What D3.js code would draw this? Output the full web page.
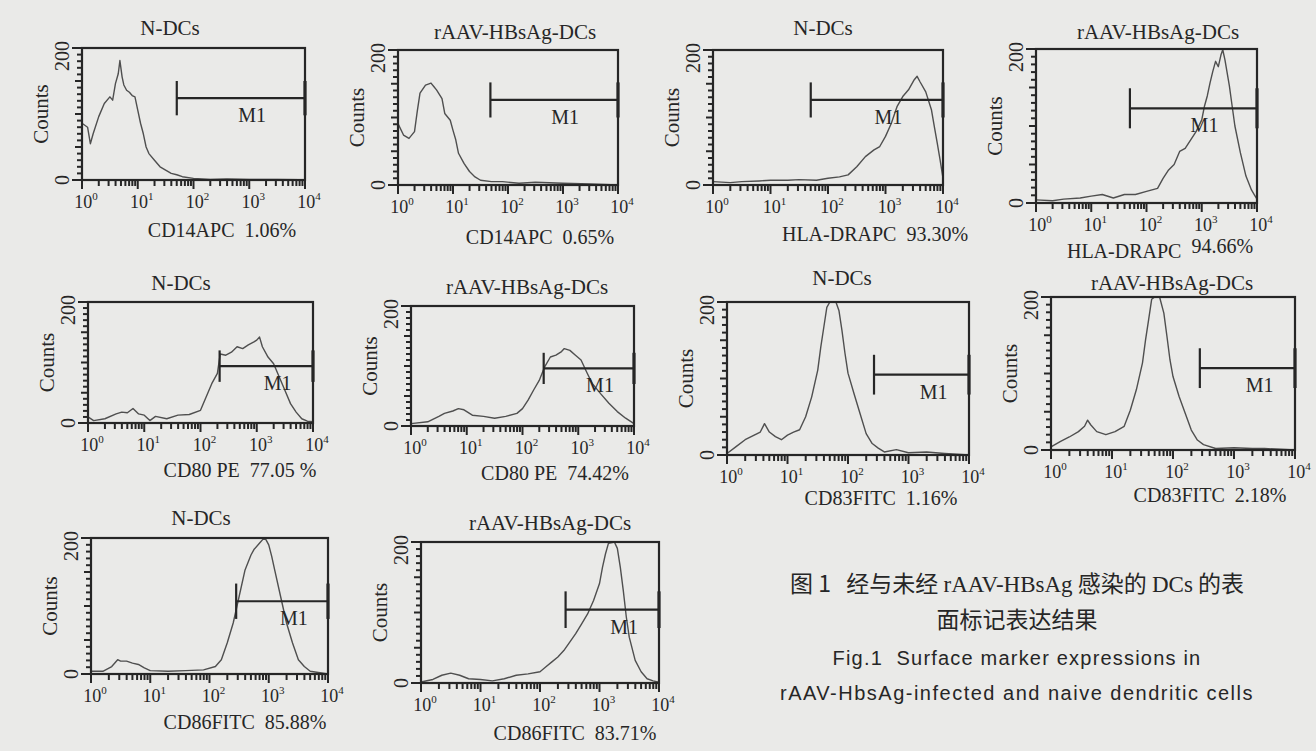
<!DOCTYPE html>
<html>
<head>
<meta charset="utf-8">
<script src="https://cdn.jsdelivr.net/npm/d3@7"></script>
<style>
  body { margin: 0; background: #eaeae8; }
  svg text { fill: #262626; }
</style>
</head>
<body>
<svg id="fig" width="1316" height="751"></svg>
<script>
// histogram traces: [log10 fluorescence, counts]
const cd14N = [[0,86],[0.1,80],[0.15,55],[0.2,70],[0.3,96],[0.4,116],[0.5,126],[0.55,121],[0.6,146],[0.65,161],[0.68,181],
  [0.72,156],[0.75,144],[0.8,136],[0.85,133],[0.9,128],[0.95,126],[1.0,106],[1.05,86],[1.1,70],[1.15,50],[1.2,40],[1.3,30],
  [1.4,20],[1.5,15],[1.6,10],[1.7,8],[1.8,5],[2.0,2.5],[2.3,1],[2.6,1.5],[3.0,1],[3.5,1],[3.9,0.5],[4.0,0]];
const cd14R = [[0,91],[0.1,74],[0.2,69],[0.3,79],[0.35,109],[0.4,136],[0.5,148],[0.6,151],[0.65,146],[0.7,141],[0.8,128],
  [0.85,106],[0.95,96],[1.0,81],[1.05,67],[1.1,47],[1.2,32],[1.3,20],[1.4,12],[1.5,7],[1.7,5],[1.9,5],[2.2,2.5],[2.5,4],
  [3.0,2.5],[3.5,1.5],[4.0,0]];
const hlaN = [[0,5],[0.3,3.5],[0.5,5],[0.8,6],[1.0,7],[1.3,7],[1.5,8],[1.8,7],[2.0,10],[2.2,12],[2.35,15],[2.5,27],[2.65,42],
  [2.8,52],[2.9,57],[3.0,72],[3.1,91],[3.2,116],[3.3,131],[3.4,141],[3.5,156],[3.55,161],[3.6,153],[3.7,138],[3.8,111],
  [3.85,86],[3.9,62],[3.95,37],[4.0,10]];
const hlaR = [[0,4],[0.3,3],[0.5,5],[0.8,6.5],[1.0,9],[1.2,11],[1.4,6.5],[1.6,11],[1.8,11],[2.0,15],[2.2,19],[2.3,32],[2.4,43],
  [2.5,50],[2.6,67],[2.7,71],[2.8,82],[2.9,93],[3.0,108],[3.05,126],[3.1,139],[3.15,156],[3.2,171],[3.25,184],[3.3,177],
  [3.35,193],[3.38,199],[3.42,186],[3.5,152],[3.55,126],[3.6,100],[3.7,65],[3.8,35],[3.9,17],[3.95,11],[4.0,5]];
const cd80N = [[0,10],[0.1,4],[0.3,7],[0.5,15],[0.6,18],[0.7,17],[0.8,24],[0.9,15],[1.0,13],[1.1,4],[1.2,11],[1.4,7],[1.6,13],
  [1.8,14],[2.0,21],[2.1,43],[2.2,65],[2.3,82],[2.35,114],[2.45,112],[2.55,117],[2.65,126],[2.75,123],[2.85,129],[2.95,134],
  [3.0,137],[3.05,142],[3.1,126],[3.2,109],[3.3,98],[3.4,76],[3.5,54],[3.6,32],[3.7,18],[3.8,7],[3.9,3],[4.0,2]];
const cd80R = [[0,4],[0.3,7],[0.5,16],[0.6,21],[0.75,25],[0.85,29],[0.95,27],[1.1,18],[1.3,16],[1.5,13],[1.7,16],[1.9,21],
  [2.0,29],[2.1,43],[2.2,60],[2.3,76],[2.4,99],[2.5,115],[2.6,118],[2.7,124],[2.75,129],[2.85,126],[2.95,118],[3.05,110],
  [3.15,90],[3.25,71],[3.4,54],[3.55,38],[3.7,24],[3.85,13],[4.0,4]];
const cd83N = [[0,2],[0.15,11],[0.3,20],[0.45,26],[0.55,30],[0.62,41],[0.7,30],[0.8,24],[0.9,20],[1.0,26],[1.1,30],[1.2,33],
  [1.3,50],[1.4,76],[1.5,111],[1.55,141],[1.6,167],[1.65,193],[1.7,200],[1.8,200],[1.85,189],[1.9,163],[1.95,133],[2.0,107],
  [2.1,80],[2.2,54],[2.3,28],[2.4,15],[2.5,9],[2.6,4],[2.8,7],[3.0,3],[3.3,4],[3.6,2],[4.0,0]];
const cd83R = [[0,4],[0.15,11],[0.3,17],[0.45,24],[0.55,31],[0.6,39],[0.65,33],[0.75,24],[0.9,20],[1.05,24],[1.2,31],[1.3,52],
  [1.4,79],[1.5,114],[1.55,144],[1.6,170],[1.65,197],[1.7,200],[1.78,200],[1.85,179],[1.9,149],[1.95,118],[2.0,96],[2.1,70],
  [2.2,48],[2.3,26],[2.4,13],[2.5,7],[2.7,2],[3.0,3],[3.3,2],[3.5,2],[4.0,0]];
const cd86N = [[0,4],[0.2,4],[0.35,11],[0.45,21],[0.5,19],[0.6,19],[0.7,16],[0.8,14],[0.9,9],[1.0,5],[1.3,4],[1.6,5],[1.9,6],
  [2.1,11],[2.2,21],[2.3,46],[2.4,75],[2.5,114],[2.6,153],[2.7,175],[2.75,183],[2.85,193],[2.9,198],[2.95,198],[3.0,190],
  [3.05,173],[3.1,153],[3.2,114],[3.3,75],[3.4,46],[3.5,21],[3.6,11],[3.7,4],[4.0,0]];
const cd86R = [[0,1.5],[0.2,5],[0.35,11],[0.5,14],[0.65,11],[0.8,6],[1.0,5],[1.2,3],[1.4,6],[1.6,11],[1.8,13],[2.0,16],[2.1,23],
  [2.2,30],[2.3,37],[2.4,46],[2.5,58],[2.6,70],[2.7,84],[2.8,98],[2.9,117],[3.0,141],[3.05,164],[3.1,183],[3.15,198],
  [3.25,200],[3.3,191],[3.35,164],[3.4,131],[3.45,94],[3.5,65],[3.6,32],[3.7,16],[3.8,6],[3.9,3],[4.0,1]];

const traces = [cd14N, cd14R, hlaN, hlaR, cd80N, cd80R, cd83N, cd83R, cd86N, cd86R];
const titles = ["N-DCs", "rAAV-HBsAg-DCs", "N-DCs", "rAAV-HBsAg-DCs", "N-DCs", "rAAV-HBsAg-DCs",
  "N-DCs", "rAAV-HBsAg-DCs", "N-DCs", "rAAV-HBsAg-DCs"];
const markers = ["CD14APC", "CD14APC", "HLA-DRAPC", "HLA-DRAPC", "CD80 PE", "CD80 PE", "CD83FITC", "CD83FITC", "CD86FITC", "CD86FITC"];
const percents = ["1.06%", "0.65%", "93.30%", "94.66%", "77.05 %", "74.42%", "1.16%", "2.18%", "85.88%", "83.71%"];
// M1 marker: start (log10) and height (counts)
const gateStart = [1.70, 1.68, 1.70, 1.70, 2.34, 2.38, 2.43, 2.44, 2.45, 2.43];
const gateLevel = [124, 126, 126, 123, 94, 96, 105, 107, 107, 104];
const decades = [0, 1, 2, 3, 4];
const countTicks = [0, 200];

// panel frames [left, top, right, bottom], title [centre, baseline], x-label [centre, baseline]
const boxes = [[82,48,305,180],[398,50,618,185],[713,50,943,185],[1036,49,1257,203],
  [88,302,313,423],[411,306,634,426],[727,302,969,455],[1051,297,1295,450],
  [91,538,328,674],[421,542,659,683]];
const titlePos = [[170,35],[515,39],[823,35],[1158,39],[181,290],[527,294],[842,285],[1172,290],[201,525],[550,530]];
const labelPos = [[222,237],[540,244],[875,241],[1160,258],[240,477],[555,480],[881,505],[1210,502],[245,729],[575,740]];

const svg = d3.select("#fig");
svg.append("rect").attr("width", 1316).attr("height", 751).attr("fill", "#eaeae8");

const serif = "'Liberation Serif', 'DejaVu Serif', serif";
const ink = "#262626";

traces.forEach(function(data, i) {
  const [l, t, r, b] = boxes[i];
  const x = d3.scaleLog().domain([1, 1e4]).range([l, r]);
  const y = d3.scaleLinear().domain([0, 200]).range([b, t]);
  const g = svg.append("g");

  // log ticks below the frame
  const xt = [];
  decades.forEach(function(e) {
    xt.push({v: Math.pow(10, e), major: true});
    if (e < 4) for (let k = 2; k <= 9; k++) xt.push({v: k * Math.pow(10, e), major: false});
  });
  g.selectAll("line.xt").data(xt).join("line").attr("class", "xt")
    .attr("x1", d => x(d.v)).attr("x2", d => x(d.v))
    .attr("y1", b).attr("y2", d => b + (d.major ? 9 : 6))
    .attr("stroke", ink).attr("stroke-width", 2);

  // dense count ticks on the left
  const yt = d3.range(0, 201, 10);
  g.selectAll("line.yt").data(yt).join("line").attr("class", "yt")
    .attr("x1", l).attr("x2", d => l - (d % 200 === 0 ? 10 : (d % 50 === 0 ? 7 : 5)))
    .attr("y1", d => y(d)).attr("y2", d => y(d))
    .attr("stroke", ink).attr("stroke-width", 2);

  // trace
  const line = d3.line()
    .x(d => x(Math.pow(10, d[0])))
    .y(d => y(Math.min(d[1], 200)));
  g.append("path").datum(data).attr("d", line)
    .attr("fill", "none").attr("stroke", "#4f4f4f").attr("stroke-width", 1.4)
    .attr("stroke-linejoin", "round");

  // frame
  g.append("rect").attr("x", l).attr("y", t).attr("width", r - l).attr("height", b - t)
    .attr("fill", "none").attr("stroke", ink).attr("stroke-width", 2.2);

  // M1 gate
  const gx0 = x(Math.pow(10, gateStart[i])), gx1 = x(1e4), gy = y(gateLevel[i]);
  const half = (b - t) * 0.13;
  g.append("line").attr("x1", gx0).attr("x2", gx1).attr("y1", gy).attr("y2", gy)
    .attr("stroke", ink).attr("stroke-width", 2.2);
  [gx0, gx1].forEach(function(gx, j) {
    g.append("line").attr("x1", gx).attr("x2", gx).attr("y1", gy - half).attr("y2", gy + half)
      .attr("stroke", ink).attr("stroke-width", j ? 3.2 : 2.2);
  });
  g.append("text").attr("x", x(Math.pow(10, (gateStart[i] + 4) / 2 + 0.2))).attr("y", gy + 24)
    .attr("text-anchor", "middle").attr("font-family", serif).attr("font-size", 20).text("M1");

  // decade labels
  decades.forEach(function(e) {
    const tx = g.append("text").attr("x", x(Math.pow(10, e)) + 4).attr("y", b + 28)
      .attr("text-anchor", "middle").attr("font-family", serif).attr("font-size", 18);
    tx.append("tspan").text("10");
    tx.append("tspan").attr("dy", -8).attr("font-size", 11).text(e);
  });

  // count labels
  countTicks.forEach(function(c) {
    g.append("text").attr("transform", "translate(" + (l - 13) + "," + (c ? t + 8 : b) + ") rotate(-90)")
      .attr("text-anchor", "middle").attr("font-family", serif).attr("font-size", 20).text(c);
  });
  g.append("text").attr("transform", "translate(" + (l - 34) + "," + ((t + b) / 2) + ") rotate(-90)")
    .attr("text-anchor", "middle").attr("font-family", serif).attr("font-size", 21).text("Counts");

  // title and marker label
  g.append("text").attr("x", titlePos[i][0]).attr("y", titlePos[i][1])
    .attr("text-anchor", "middle").attr("font-family", serif).attr("font-size", 21).text(titles[i]);
  const lab = g.append("text").attr("x", labelPos[i][0]).attr("y", labelPos[i][1])
    .attr("text-anchor", "middle").attr("font-family", serif).attr("font-size", 20)
    .attr("xml:space", "preserve");
  lab.append("tspan").text(markers[i] + "  ");
  lab.append("tspan").attr("dy", i === 3 ? -5 : 0).text(percents[i]);
});

// caption
const cjk = "'Noto Sans CJK SC', sans-serif";
const sans = "'Liberation Sans', Arial, sans-serif";
const cap1 = svg.append("text").attr("x", 1017).attr("y", 592).attr("text-anchor", "middle")
  .attr("font-size", 23).attr("xml:space", "preserve");
[["图 1   经与未经 ", cjk], ["rAAV-HBsAg", serif], [" 感染的 ", cjk], ["DCs", serif], [" 的表", cjk]].forEach(function(p) {
  cap1.append("tspan").attr("font-family", p[1]).text(p[0]);
});
svg.append("text").attr("x", 1017).attr("y", 628).attr("text-anchor", "middle")
  .attr("font-family", cjk).attr("font-size", 23).text("面标记表达结果");
svg.append("text").attr("x", 1017).attr("y", 665).attr("text-anchor", "middle")
  .attr("font-family", sans).attr("font-size", 20).attr("letter-spacing", 1.2).attr("xml:space", "preserve")
  .text("Fig.1  Surface marker expressions in");
svg.append("text").attr("x", 1017).attr("y", 700).attr("text-anchor", "middle")
  .attr("font-family", sans).attr("font-size", 20).attr("letter-spacing", 1.5)
  .text("rAAV-HbsAg-infected and naive dendritic cells");
</script>
</body>
</html>
